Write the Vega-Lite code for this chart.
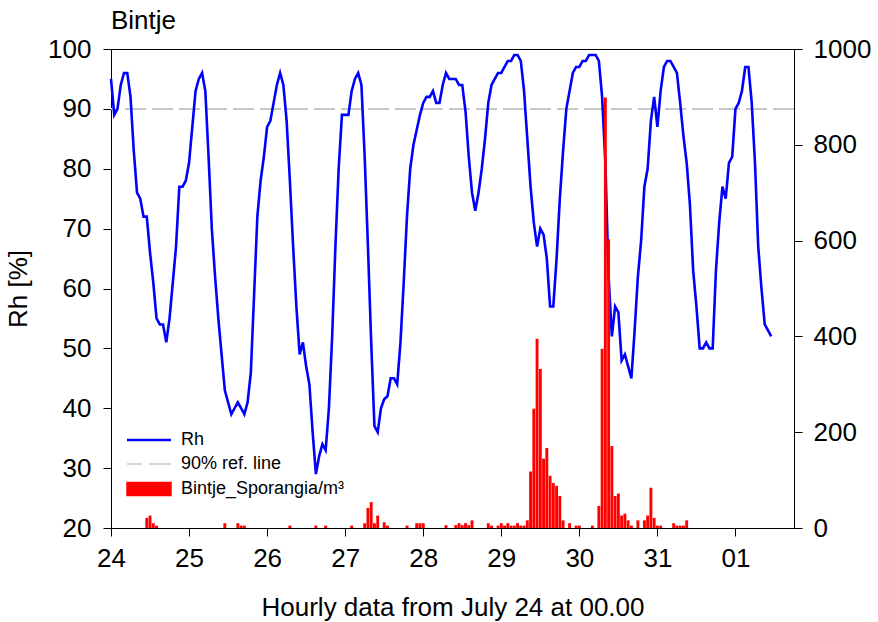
{
  "$schema": "https://vega.github.io/schema/vega-lite/v6.json",
  "width": 683,
  "height": 479,
  "autosize": {"type": "none"},
  "padding": {"left": 111, "top": 49, "right": 84, "bottom": 94},
  "background": "white",
  "title": {"text": "Bintje", "anchor": "start", "frame": "group", "fontSize": 26, "font": "Liberation Sans", "fontWeight": "normal", "color": "black", "offset": 0, "dy": 19, "baseline": "alphabetic"},
  "config": {
    "view": {"stroke": "black", "strokeWidth": 1},
    "font": "Liberation Sans",
    "axis": {"grid": false, "domainColor": "black", "tickColor": "black", "labelColor": "black", "titleColor": "black", "labelFontSize": 26, "titleFontSize": 26, "titleFontWeight": "normal", "tickSize": 8, "labelFont": "Liberation Sans", "titleFont": "Liberation Sans", "labelFlush": false, "labelOverlap": false, "labelBound": false},
    "legend": {"padding": 0}
  },
  "datasets": {
    "rh": [
      {"h":0,"rh":95},{"h":1,"rh":89},{"h":2,"rh":90},{"h":3,"rh":94},{"h":4,"rh":96},{"h":5,"rh":96},{"h":6,"rh":92},{"h":7,"rh":83},{"h":8,"rh":76},{"h":9,"rh":75},
      {"h":10,"rh":72},{"h":11,"rh":72},{"h":12,"rh":66},{"h":13,"rh":61},{"h":14,"rh":55},{"h":15,"rh":54},{"h":16,"rh":54},{"h":17,"rh":51},{"h":18,"rh":55},{"h":19,"rh":61},
      {"h":20,"rh":67},{"h":21,"rh":77},{"h":22,"rh":77},{"h":23,"rh":78},{"h":24,"rh":81},{"h":25,"rh":87},{"h":26,"rh":93},{"h":27,"rh":95},{"h":28,"rh":96},{"h":29,"rh":93},
      {"h":30,"rh":82},{"h":31,"rh":70},{"h":32,"rh":62},{"h":33,"rh":55},{"h":34,"rh":49},{"h":35,"rh":43},{"h":36,"rh":41},{"h":37,"rh":39},{"h":38,"rh":40},{"h":39,"rh":41},
      {"h":40,"rh":40},{"h":41,"rh":39},{"h":42,"rh":41},{"h":43,"rh":46},{"h":44,"rh":59},{"h":45,"rh":72},{"h":46,"rh":78},{"h":47,"rh":82},{"h":48,"rh":87},{"h":49,"rh":88},
      {"h":50,"rh":91},{"h":51,"rh":94},{"h":52,"rh":96},{"h":53,"rh":94},{"h":54,"rh":88},{"h":55,"rh":78},{"h":56,"rh":67},{"h":57,"rh":57},{"h":58,"rh":49},{"h":59,"rh":51},
      {"h":60,"rh":47},{"h":61,"rh":44},{"h":62,"rh":36},{"h":63,"rh":29},{"h":64,"rh":32},{"h":65,"rh":34},{"h":66,"rh":33},{"h":67,"rh":40},{"h":68,"rh":52},{"h":69,"rh":67},
      {"h":70,"rh":80},{"h":71,"rh":89},{"h":72,"rh":89},{"h":73,"rh":89},{"h":74,"rh":93},{"h":75,"rh":95},{"h":76,"rh":96},{"h":77,"rh":94},{"h":78,"rh":82},{"h":79,"rh":67},
      {"h":80,"rh":51},{"h":81,"rh":37},{"h":82,"rh":36},{"h":83,"rh":40},{"h":84,"rh":41.5},{"h":85,"rh":42},{"h":86,"rh":45},{"h":87,"rh":45},{"h":88,"rh":44},{"h":89,"rh":51},
      {"h":90,"rh":61},{"h":91,"rh":72},{"h":92,"rh":80},{"h":93,"rh":84},{"h":94,"rh":86.5},{"h":95,"rh":89},{"h":96,"rh":91},{"h":97,"rh":92},{"h":98,"rh":92},{"h":99,"rh":93},
      {"h":100,"rh":91},{"h":101,"rh":91},{"h":102,"rh":94},{"h":103,"rh":96},{"h":104,"rh":95},{"h":105,"rh":95},{"h":106,"rh":95},{"h":107,"rh":94},{"h":108,"rh":94},{"h":109,"rh":89.6},
      {"h":110,"rh":82},{"h":111,"rh":76},{"h":112,"rh":73},{"h":113,"rh":76},{"h":114,"rh":80},{"h":115,"rh":85},{"h":116,"rh":91},{"h":117,"rh":94},{"h":118,"rh":95},{"h":119,"rh":96},
      {"h":120,"rh":96},{"h":121,"rh":97},{"h":122,"rh":98},{"h":123,"rh":98},{"h":124,"rh":99},{"h":125,"rh":99},{"h":126,"rh":98},{"h":127,"rh":93},{"h":128,"rh":85},{"h":129,"rh":77},
      {"h":130,"rh":71},{"h":131,"rh":67},{"h":132,"rh":70},{"h":133,"rh":69},{"h":134,"rh":65},{"h":135,"rh":57},{"h":136,"rh":57},{"h":137,"rh":65},{"h":138,"rh":75},{"h":139,"rh":83},
      {"h":140,"rh":90},{"h":141,"rh":93},{"h":142,"rh":96},{"h":143,"rh":97},{"h":144,"rh":97},{"h":145,"rh":98},{"h":146,"rh":98},{"h":147,"rh":99},{"h":148,"rh":99},{"h":149,"rh":99},
      {"h":150,"rh":98},{"h":151,"rh":92},{"h":152,"rh":81},{"h":153,"rh":62},{"h":154,"rh":52},{"h":155,"rh":57},{"h":156,"rh":56},{"h":157,"rh":48},{"h":158,"rh":49},{"h":159,"rh":47},
      {"h":160,"rh":45},{"h":161,"rh":53},{"h":162,"rh":62},{"h":163,"rh":68},{"h":164,"rh":77},{"h":165,"rh":80},{"h":166,"rh":88},{"h":167,"rh":92},{"h":168,"rh":87},{"h":169,"rh":93},
      {"h":170,"rh":97},{"h":171,"rh":98},{"h":172,"rh":98},{"h":173,"rh":97},{"h":174,"rh":96},{"h":175,"rh":91},{"h":176,"rh":85.5},{"h":177,"rh":81},{"h":178,"rh":74},{"h":179,"rh":63},
      {"h":180,"rh":57},{"h":181,"rh":50},{"h":182,"rh":50},{"h":183,"rh":51},{"h":184,"rh":50},{"h":185,"rh":50},{"h":186,"rh":63},{"h":187,"rh":71},{"h":188,"rh":77},{"h":189,"rh":75},
      {"h":190,"rh":81},{"h":191,"rh":82},{"h":192,"rh":90},{"h":193,"rh":91},{"h":194,"rh":93},{"h":195,"rh":97},{"h":196,"rh":97},{"h":197,"rh":91},{"h":198,"rh":81},{"h":199,"rh":67},
      {"h":200,"rh":60},{"h":201,"rh":54},{"h":202,"rh":53},{"h":203,"rh":52}
    ],
    "sp": [
      {"h":11,"sp":21},{"h":12,"sp":26},{"h":13,"sp":10},{"h":14,"sp":5},
      {"h":35,"sp":10},{"h":39,"sp":10},{"h":40,"sp":5},{"h":41,"sp":5},
      {"h":55,"sp":5},{"h":63,"sp":5},{"h":66,"sp":5},{"h":74,"sp":5},
      {"h":78,"sp":10},{"h":79,"sp":42},{"h":80,"sp":54},{"h":81,"sp":10},{"h":82,"sp":26},{"h":84,"sp":12},{"h":85,"sp":5},
      {"h":91,"sp":5},{"h":94,"sp":10},{"h":95,"sp":10},{"h":96,"sp":10},
      {"h":103,"sp":6},{"h":106,"sp":6},{"h":107,"sp":10},{"h":108,"sp":6},{"h":109,"sp":10},{"h":110,"sp":6},{"h":111,"sp":16},
      {"h":116,"sp":10},{"h":117,"sp":5},{"h":119,"sp":5},{"h":120,"sp":10},{"h":121,"sp":5},{"h":122,"sp":10},{"h":123,"sp":5},{"h":124,"sp":5},{"h":125,"sp":10},{"h":126,"sp":5},{"h":127,"sp":5},
      {"h":128,"sp":16},{"h":129,"sp":118},{"h":130,"sp":249},{"h":131,"sp":395},{"h":132,"sp":332},{"h":133,"sp":145},{"h":134,"sp":167},{"h":135,"sp":109},{"h":136,"sp":94},{"h":137,"sp":88},{"h":138,"sp":67},{"h":139,"sp":16},
      {"h":141,"sp":10},{"h":143,"sp":5},{"h":144,"sp":5},{"h":148,"sp":5},
      {"h":150,"sp":46},{"h":151,"sp":374},{"h":152,"sp":899},{"h":153,"sp":603},{"h":154,"sp":171},{"h":155,"sp":67},{"h":156,"sp":72},{"h":157,"sp":26},{"h":158,"sp":30},{"h":159,"sp":16},{"h":160,"sp":5},
      {"h":162,"sp":16},{"h":164,"sp":16},{"h":165,"sp":26},{"h":166,"sp":84},{"h":167,"sp":21},{"h":168,"sp":5},{"h":169,"sp":5},
      {"h":173,"sp":10},{"h":174,"sp":5},{"h":175,"sp":5},{"h":176,"sp":5},{"h":177,"sp":16}
    ]
  },
  "layer": [
    {
      "data": {"name": "rh"},
      "mark": {"type": "rule", "strokeDash": [21, 6], "strokeWidth": 1.5},
      "encoding": {
        "y": {"datum": 90, "type": "quantitative", "scale": {"domain": [20, 100], "nice": false}, "axis": null},
        "color": {"datum": "90% ref. line", "type": "nominal"}
      }
    },
    {
      "data": {"name": "rh"},
      "mark": {"type": "line", "strokeWidth": 2.6},
      "encoding": {
        "x": {"field": "h", "type": "quantitative", "scale": {"domain": [0, 210], "nice": false, "zero": false, "padding": 0},
              "axis": {"values": [0, 24, 48, 72, 96, 120, 144, 168, 192], "labelExpr": "['24','25','26','27','28','29','30','31','01'][round(datum.value/24)]", "title": "Hourly data from July 24 at 00.00", "labelPadding": 9, "titlePadding": 23}},
        "y": {"field": "rh", "type": "quantitative", "scale": {"domain": [20, 100], "nice": false, "zero": false},
              "axis": {"orient": "left", "values": [20, 30, 40, 50, 60, 70, 80, 90, 100], "title": "Rh [%]", "labelPadding": 12, "titlePadding": 16}},
        "color": {"datum": "Rh", "type": "nominal",
                  "scale": {"domain": ["Rh", "90% ref. line", "Bintje_Sporangia/m³"], "range": ["#0000ff", "#c8c8c8", "#ff0000"]},
                  "legend": {
                    "title": null, "orient": "none", "legendX": 29, "legendY": 382,
                    "labelFontSize": 18, "labelFont": "Liberation Sans", "labelColor": "black", "labelLimit": 0,
                    "symbolSize": 196, "labelOffset": 23, "rowPadding": 6,
                    "encode": {"symbols": {"update": {
                      "shape": {"signal": "datum.value === 'Bintje_Sporangia/m³' ? 'M-3.143,-0.943H3.143V0.943H-3.143Z' : 'M-3.143,0H3.143'"},
                      "fill": {"signal": "datum.value === 'Bintje_Sporangia/m³' ? '#ff0000' : 'transparent'"},
                      "stroke": {"signal": "datum.value === 'Rh' ? '#0000ff' : (datum.value === '90% ref. line' ? '#c8c8c8' : 'transparent')"},
                      "strokeWidth": {"signal": "datum.value === 'Rh' ? 2.6 : 1.5"},
                      "strokeDash": {"signal": "datum.value === '90% ref. line' ? [15, 7, 22, 7] : [1, 0]"},
                      "opacity": {"value": 1}
                    }}}
                  }}
      }
    },
    {
      "data": {"name": "sp"},
      "mark": {"type": "bar", "width": 2.9},
      "encoding": {
        "x": {"field": "h", "type": "quantitative"},
        "y": {"field": "sp", "type": "quantitative", "scale": {"domain": [0, 1000], "nice": false},
              "axis": {"orient": "right", "values": [0, 200, 400, 600, 800, 1000], "format": "d", "title": null, "labelPadding": 11}},
        "color": {"datum": "Bintje_Sporangia/m³", "type": "nominal"}
      }
    }
  ],
  "resolve": {"scale": {"y": "independent"}}
}
